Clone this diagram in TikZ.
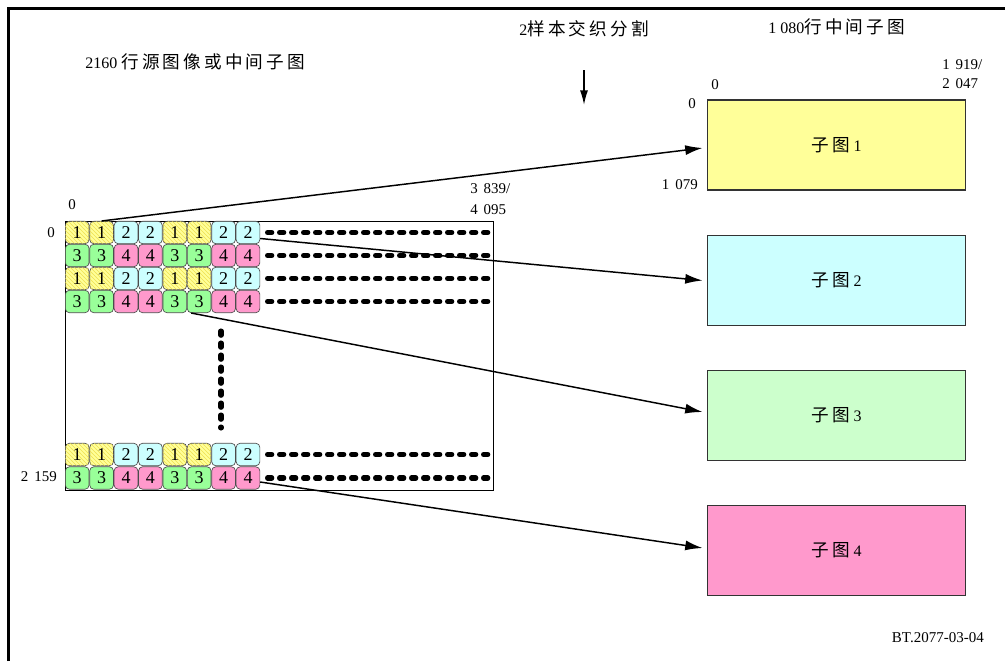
\documentclass[tikz,border=0pt]{standalone}
\usepackage{fontspec}
\setmainfont{Liberation Serif}
\newfontfamily\cjk{Noto Sans CJK SC}[Scale=1.1,LetterSpace=18]
\usetikzlibrary{arrows.meta,patterns}
\definecolor{cc1}{HTML}{FFFF99}
\definecolor{cc2}{HTML}{CCFFFF}
\definecolor{cc3}{HTML}{99FF99}
\definecolor{cc4}{HTML}{FF99CC}
\definecolor{hatchy}{HTML}{EEE050}
\definecolor{bx1}{HTML}{FFFF99}
\definecolor{bx2}{HTML}{CCFFFF}
\definecolor{bx3}{HTML}{CCFFCC}
\definecolor{bx4}{HTML}{FF99CC}
\newcommand\nsp{\hspace{0.4em}}
\begin{document}
\begin{tikzpicture}[x=0.75pt,y=-0.75pt,
  lab/.style={inner sep=0pt, font=\fontsize{11.2pt}{12pt}\selectfont},
  head/.style={inner sep=0pt, anchor=west, font=\fontsize{12pt}{14pt}\selectfont},
  cell/.style={draw=black!70, line width=0.5pt, rounded corners=3pt, minimum width=17.8pt, minimum height=16.8pt, inner sep=0pt, font=\fontsize{13.5pt}{13pt}\selectfont},
  sub/.style={draw=black!80, line width=0.9pt, minimum width=194pt, minimum height=67.5pt, inner sep=0pt, font=\fontsize{12pt}{14pt}\selectfont},
  dotline/.style={line width=3.8pt, line cap=round, dash pattern=on 3.2pt off 5.8pt},
  link/.style={line width=1.1pt, -{Latex[length=13pt,width=7.5pt]}}
]
\useasboundingbox (0,0) rectangle (1005,661);
% frame
\coordinate (fbl) at (8.5,661);
\coordinate (ftl) at (8.5,8.5);
\coordinate (ftr) at (1005,8.5);
\draw[line width=2pt] (fbl) -- (ftl) -- (ftr);
% source picture
\node[draw, line width=0.8pt, anchor=north west, minimum width=321.4pt, minimum height=202pt, inner sep=0pt] (src) at (64.5,220.5) {};
% cells
\foreach \r/\y/\b in {1/232.5/1, 2/255.5/3, 3/278.5/1, 4/301.5/3, 5/454.5/1, 6/478/3} {
  \foreach \c in {1,...,8} {
    \pgfmathtruncatemacro\v{\b+mod(floor((\c-1)/2),2)}
    \pgfmathsetmacro\xx{52.8+24.4*\c}
    \ifnum\v=1
      \node[cell, fill=cc1, postaction={pattern=north west lines, pattern color=hatchy}] (r\r-\c) at (\xx,\y) {\v};
    \else
      \node[cell, fill=cc\v] (r\r-\c) at (\xx,\y) {\v};
    \fi
  }
  \draw[dotline] ([xshift=5.5pt]r\r-8.east) -- ([xshift=-1.5pt]r\r-8.east -| src.east);
}
\coordinate (vt) at (221,331);
\coordinate (vb) at (221,428);
\draw[dotline] (vt) -- (vb);
% labels
\node[lab] (l0top) at (72,205) {0};
\node[lab] (l0left) at (51,232.5) {0};
\node[lab, anchor=east] (l2159) at (57,477) {2\nsp159};
\node[lab, anchor=west] (l3839) at (470,189) {3\nsp839/};
\node[lab, anchor=west] (l4095) at (470,210) {4\nsp095};
\node[lab] (b0top) at (715,85) {0};
\node[lab, anchor=west] (l1919) at (942,65) {1\nsp919/};
\node[lab, anchor=west] (l2047) at (942,84) {2\nsp047};
\node[lab] (b0left) at (692,104) {0};
\node[lab, anchor=east] (l1079) at (698,185) {1\nsp079};
% headings
\node[head] (h1) at (85,62) {2160 {\cjk 行源图像或中间子图}};
\node[head] (h2) at (519,29) {2{\cjk 样本交织分割}};
\node[head] (h3) at (768,27) {1 080{\cjk 行中间子图}};
\coordinate (dtop) at (584,70);
\coordinate (dbot) at (584,105);
\draw[line width=1.1pt,-{Latex[length=11pt,width=6pt]}] (dtop) -- (dbot);
% sub-pictures
\node[sub, fill=bx1] (b1) at (836.5,145) {{\cjk 子图} 1};
\node[sub, fill=bx2] (b2) at (836.5,280.5) {{\cjk 子图} 2};
\node[sub, fill=bx3] (b3) at (836.5,415.5) {{\cjk 子图} 3};
\node[sub, fill=bx4] (b4) at (836.5,550.5) {{\cjk 子图} 4};
% links
\draw[link] (r1-2.north) -- ([shift={(-4,3)}]b1.west);
\draw[link] ([shift={(0,6)}]r1-8.east) -- ([shift={(-4,0)}]b2.west);
\draw[link] ([shift={(-8,0)}]r4-6.south) -- ([shift={(-4,-3.5)}]b3.west);
\draw[link] ([shift={(0,4)}]r6-8.east) -- ([shift={(-4,-2.5)}]b4.west);
\node[anchor=east, inner sep=0pt, font=\fontsize{11.25pt}{13pt}\selectfont] (bt) at (984,638) {BT.2077-03-04};
\end{tikzpicture}
\end{document}
